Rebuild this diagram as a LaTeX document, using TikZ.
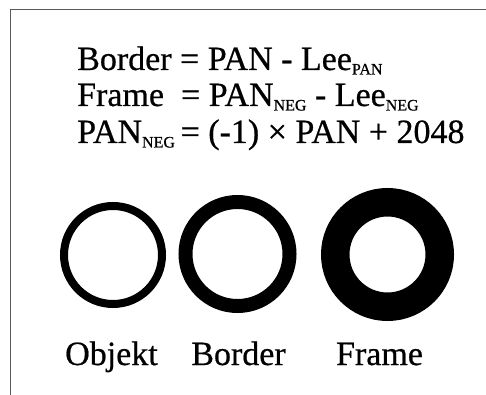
\documentclass[tikz,border=0pt]{standalone}
\usepackage{fontspec}
\setmainfont{Liberation Serif}
\newfontfamily\eqfont[FakeBold=0.6]{Liberation Serif}
\newcommand{\subsc}[1]{\raisebox{-4.5pt}{\fontsize{16}{16}\selectfont #1}}
\begin{document}
\begin{tikzpicture}[x=1pt,y=-1pt,
  eqline/.style={anchor=base west,inner sep=0pt,font=\eqfont\fontsize{34}{36}\selectfont},
  caption/.style={anchor=base,inner sep=0pt,font=\eqfont\fontsize{34}{36}\selectfont},
  ring/.style={circle,draw=black,fill=white,inner sep=0pt,outer sep=0pt}]
  \useasboundingbox (0,0) rectangle (486,395);
  % panel outline (top and left edges)
  \coordinate (tr) at (486,9.5);
  \coordinate (tl) at (10.5,9.5);
  \coordinate (bl) at (10.5,395);
  \draw[black!65,line width=0.9pt] (tr) -- (tl) -- (bl);

  % formulas
  \node[eqline] (eq1) at (77,70) {Border = PAN - Lee\subsc{PAN}};
  \node[eqline] (eq2) at (77,106) {Frame\ \ = PAN\subsc{NEG} - Lee\subsc{NEG}};
  \node[eqline] (eq3) at (77,143) {PAN\subsc{NEG}\,= (-1) \texttimes{} PAN + 2048};

  % rings of growing thickness
  \node[ring,line width=8pt,minimum size=98pt] (objekt) at (113,255) {};
  \node[ring,line width=14pt,minimum size=104pt] (border) at (237.5,254) {};
  \node[ring,line width=28.5pt,minimum size=104.5pt] (frame) at (387.5,254.5) {};

  % captions
  \node[caption] (lobjekt) at (111.5,365) {Objekt};
  \node[caption] (lborder) at (238.5,365) {Border};
  \node[caption] (lframe) at (379.5,365) {Frame};
\end{tikzpicture}
\end{document}
